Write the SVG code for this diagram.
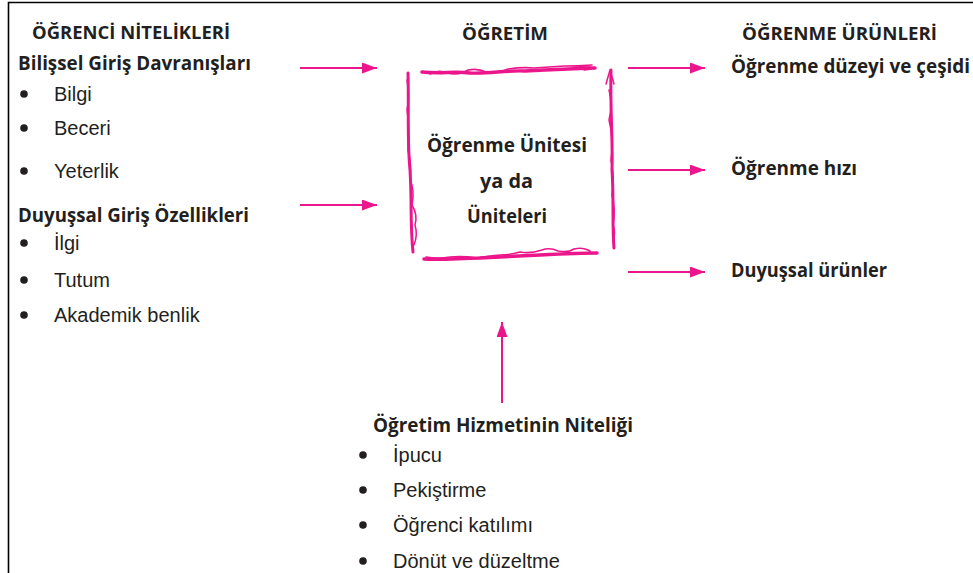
<svg xmlns="http://www.w3.org/2000/svg" width="973" height="573" viewBox="0 0 973 573">
<defs>
<style>
.b{font-family:"Open Sans","Liberation Sans",sans-serif;font-weight:bold;fill:#231f20}
.h{font-size:17px}
.s{font-size:19px}
.r{font-family:"Liberation Sans",Arial,sans-serif;font-size:20px;fill:#231f20}
.dot{fill:#231f20}
.con{stroke:#ec168c;stroke-width:2;fill:none}
.sk{stroke:#ec168c;fill:none;stroke-linecap:round;stroke-linejoin:round}
</style>
<marker id="ah" viewBox="0 0 15 11" refX="15" refY="5.5" markerWidth="15" markerHeight="11" markerUnits="userSpaceOnUse" orient="auto">
<path d="M0,0 L15,5.5 L0,11 Z" fill="#ec168c"/>
</marker>
</defs>
<rect width="973" height="573" fill="#fff"/>
<path d="M8.5,573 L8.5,2.5 L973,2.5" stroke="#000" stroke-width="1.6" fill="none"/>

<g id="ogrenci-nitelikleri">
<text class="b h" x="32" y="39" textLength="198" lengthAdjust="spacingAndGlyphs">ÖĞRENCİ NİTELİKLERİ</text>
<text class="b s" x="18" y="70" textLength="233" lengthAdjust="spacingAndGlyphs">Bilişsel Giriş Davranışları</text>
<circle class="dot" cx="24" cy="94" r="3.8"/><text class="r" x="54" y="101">Bilgi</text>
<circle class="dot" cx="24" cy="128" r="3.8"/><text class="r" x="54" y="135">Beceri</text>
<circle class="dot" cx="24" cy="171" r="3.8"/><text class="r" x="54" y="178">Yeterlik</text>
<text class="b s" x="18" y="222" textLength="231" lengthAdjust="spacingAndGlyphs">Duyuşsal Giriş Özellikleri</text>
<circle class="dot" cx="24" cy="243" r="3.8"/><text class="r" x="54" y="250">İlgi</text>
<circle class="dot" cx="24" cy="280" r="3.8"/><text class="r" x="54" y="287">Tutum</text>
<circle class="dot" cx="24" cy="315" r="3.8"/><text class="r" x="54" y="322">Akademik benlik</text>
</g>

<g id="ogretim">
<text class="b h" x="462" y="40" textLength="86" lengthAdjust="spacingAndGlyphs">ÖĞRETİM</text>
<g id="unite-kutusu">
<path class="sk" stroke-width="3.5" d="M422,72 C440,74 455,71 470,73 C490,74 505,70 525,71 C545,70 565,69 595,68"/>
<path class="sk" stroke-width="1.6" d="M430,74 q8,-5 18,-1 q10,3 20,-3 q10,-2 18,2 q12,1 22,-3 q14,-2 26,-1 q16,-1 30,-2 q14,0 28,-1 M570,66 q10,0 20,1 q4,2 -6,3"/>
<path class="sk" stroke-width="3" d="M408,73 C409,110 407,140 410,170 C412,200 410,225 413,252"/>
<path class="sk" stroke-width="1.5" d="M407,80 q3,15 0,30 q3,20 1,40 q4,15 2,30 q5,10 2,25 q6,10 3,20 q3,10 -1,20"/>
<path class="sk" stroke-width="3" d="M611,70 C610,110 613,140 612,170 C614,200 612,225 614,248"/>
<path class="sk" stroke-width="1.5" d="M606,84 l4,-14 l4,14 M609,90 q4,15 0,30 q5,20 2,40 q4,20 1,35 q4,15 1,30 q3,8 0,15"/>
<path class="sk" stroke-width="3.5" d="M424,259 C445,260 460,258 480,258 C500,257 520,256 540,255 C560,254 580,253 597,253"/>
<path class="sk" stroke-width="1.6" d="M426,257 q12,2 24,0 q14,-1 26,1 q12,-2 24,-3 q10,0 20,-3 q10,2 22,-2 q8,-3 16,1 q10,2 16,-2 q8,-2 14,1 q6,3 -2,3"/>
<text class="b s" x="427" y="152" textLength="160" lengthAdjust="spacingAndGlyphs">Öğrenme Ünitesi</text>
<text class="b s" x="480" y="188" textLength="53" lengthAdjust="spacingAndGlyphs">ya da</text>
<text class="b s" x="467" y="223" textLength="80" lengthAdjust="spacingAndGlyphs">Üniteleri</text>
</g>
</g>

<g id="ogrenme-urunleri">
<text class="b h" x="742" y="40" textLength="195" lengthAdjust="spacingAndGlyphs">ÖĞRENME ÜRÜNLERİ</text>
<text class="b s" x="731" y="73" textLength="239" lengthAdjust="spacingAndGlyphs">Öğrenme düzeyi ve çeşidi</text>
<text class="b s" x="731" y="175" textLength="126" lengthAdjust="spacingAndGlyphs">Öğrenme hızı</text>
<text class="b s" x="731" y="277" textLength="156" lengthAdjust="spacingAndGlyphs">Duyuşsal ürünler</text>
</g>

<g id="ogretim-hizmeti">
<text class="b s" x="373" y="432" textLength="260" lengthAdjust="spacingAndGlyphs">Öğretim Hizmetinin Niteliği</text>
<circle class="dot" cx="363" cy="455" r="3.8"/><text class="r" x="393" y="462">İpucu</text>
<circle class="dot" cx="363" cy="490" r="3.8"/><text class="r" x="393" y="497">Pekiştirme</text>
<circle class="dot" cx="363" cy="525" r="3.8"/><text class="r" x="393" y="532">Öğrenci katılımı</text>
<circle class="dot" cx="363" cy="561" r="3.8"/><text class="r" x="393" y="568">Dönüt ve düzeltme</text>
</g>

<g id="connectors">
<line class="con" x1="300" y1="68" x2="377" y2="68" marker-end="url(#ah)"/>
<line class="con" x1="300" y1="205" x2="377" y2="205" marker-end="url(#ah)"/>
<line class="con" x1="628" y1="68" x2="705" y2="68" marker-end="url(#ah)"/>
<line class="con" x1="628" y1="170" x2="705" y2="170" marker-end="url(#ah)"/>
<line class="con" x1="628" y1="272" x2="705" y2="272" marker-end="url(#ah)"/>
<line class="con" x1="502" y1="403" x2="502" y2="322" marker-end="url(#ah)"/>
</g>
</svg>
